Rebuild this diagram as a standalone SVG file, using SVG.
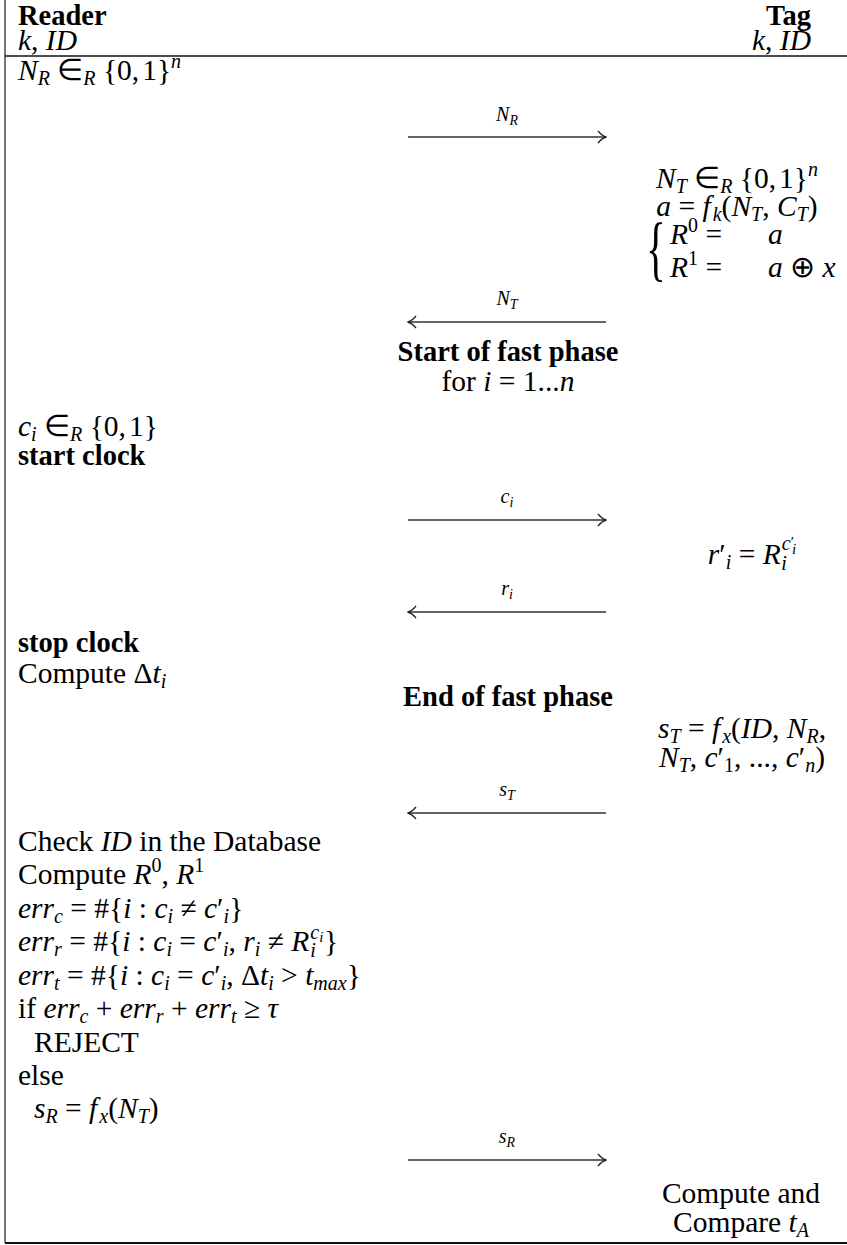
<svg xmlns="http://www.w3.org/2000/svg" width="847" height="1245" viewBox="0 0 847 1245">
<style>
.t{font-family:"Liberation Serif","Times New Roman",serif;font-size:29.5px;fill:#000}
.i{font-style:italic}
.b{font-weight:bold;font-size:28.5px}
.sb{font-size:20px}
.sp{font-size:20px}
.ss{font-size:15px}
.l{font-family:"Liberation Serif","Times New Roman",serif;font-size:20px;fill:#000;font-style:italic}
.l .sb{font-size:14px}
.c{text-anchor:middle}
.e{text-anchor:end}
.rule{stroke:#111;stroke-width:1.5}
.side{stroke:#777;stroke-width:2}
.arr{stroke:#333;stroke-width:1.3;fill:none}
</style>
<defs>
<marker id="tip" viewBox="-10 -7 12 14" refX="0" refY="0" markerWidth="12" markerHeight="14" markerUnits="userSpaceOnUse" orient="auto-start-reverse">
<path d="M-8,-6 C-5,-2.5 -2.5,-0.6 0.5,0 C-2.5,0.6 -5,2.5 -8,6" fill="none" stroke="#222" stroke-width="1.3"/>
</marker>
</defs>
<rect width="847" height="1245" fill="#fff"/>
<g id="frame">
<line class="side" x1="5" y1="0" x2="5" y2="1243"/>
<line class="rule" x1="5" y1="56" x2="847" y2="56"/>
<line class="rule" x1="5" y1="1243" x2="847" y2="1243" style="stroke-width:2"/>
</g>
<g id="reader">
<text class="t b" x="18" y="25">Reader</text>
<text class="t" x="18" y="50"><tspan class="i">k</tspan>, <tspan class="i">ID</tspan></text>
<text class="t" x="18" y="80"><tspan class="i">N</tspan><tspan class="i sb" dy="5">R</tspan><tspan dy="-5"> ∈</tspan><tspan class="i sb" dy="5">R</tspan><tspan dy="-5"> {0,</tspan><tspan dx="3">1}</tspan><tspan class="i sp" dy="-12">n</tspan></text>
<text class="t" x="18" y="436"><tspan class="i">c</tspan><tspan class="i sb" dy="5">i</tspan><tspan dy="-5"> ∈</tspan><tspan class="i sb" dy="5">R</tspan><tspan dy="-5"> {0,</tspan><tspan dx="3">1}</tspan></text>
<text class="t b" x="18" y="465">start clock</text>
<text class="t b" x="18" y="652">stop clock</text>
<text class="t" x="18" y="683">Compute Δ<tspan class="i">t</tspan><tspan class="i sb" dy="5">i</tspan></text>
<text class="t" x="18" y="851">Check <tspan class="i">ID</tspan> in the Database</text>
<text class="t" x="18" y="884">Compute <tspan class="i">R</tspan><tspan class="sp" dy="-12">0</tspan><tspan dy="12">, </tspan><tspan class="i">R</tspan><tspan class="sp" dy="-12">1</tspan></text>
<text class="t" x="18" y="918"><tspan class="i">err</tspan><tspan class="i sb" dy="5">c</tspan><tspan dy="-5"> = #{</tspan><tspan class="i">i</tspan> : <tspan class="i">c</tspan><tspan class="i sb" dy="5">i</tspan><tspan dy="-5"> ≠ </tspan><tspan class="i">c</tspan>′<tspan class="i sb" dy="5">i</tspan><tspan dy="-5">}</tspan></text>
<text class="t" x="18" y="951"><tspan class="i">err</tspan><tspan class="i sb" dy="5">r</tspan><tspan dy="-5"> = #{</tspan><tspan class="i">i</tspan> : <tspan class="i">c</tspan><tspan class="i sb" dy="5">i</tspan><tspan dy="-5"> = </tspan><tspan class="i">c</tspan>′<tspan class="i sb" dy="5">i</tspan><tspan dy="-5">, </tspan><tspan class="i">r</tspan><tspan class="i sb" dy="5">i</tspan><tspan dy="-5"> ≠ </tspan><tspan class="i">R</tspan><tspan class="i sp" dx="1" dy="-12">c</tspan><tspan class="i ss" dy="3">i</tspan><tspan class="i sb" dx="-13" dy="15">i</tspan><tspan dx="8" dy="-6">}</tspan></text>
<text class="t" x="18" y="985"><tspan class="i">err</tspan><tspan class="i sb" dy="5">t</tspan><tspan dy="-5"> = #{</tspan><tspan class="i">i</tspan> : <tspan class="i">c</tspan><tspan class="i sb" dy="5">i</tspan><tspan dy="-5"> = </tspan><tspan class="i">c</tspan>′<tspan class="i sb" dy="5">i</tspan><tspan dy="-5">, Δ</tspan><tspan class="i">t</tspan><tspan class="i sb" dy="5">i</tspan><tspan dy="-5"> &gt; </tspan><tspan class="i">t</tspan><tspan class="i sb" dy="5">max</tspan><tspan dy="-5">}</tspan></text>
<text class="t" x="18" y="1018">if <tspan class="i">err</tspan><tspan class="i sb" dy="5">c</tspan><tspan dy="-5"> + </tspan><tspan class="i">err</tspan><tspan class="i sb" dy="5">r</tspan><tspan dy="-5"> + </tspan><tspan class="i">err</tspan><tspan class="i sb" dy="5">t</tspan><tspan dy="-5"> ≥ </tspan><tspan class="i">τ</tspan></text>
<text class="t" x="34" y="1052">REJECT</text>
<text class="t" x="18" y="1085">else</text>
<text class="t" x="34" y="1118"><tspan class="i">s</tspan><tspan class="i sb" dy="5">R</tspan><tspan dy="-5"> = </tspan><tspan class="i">f</tspan><tspan class="i sb" dx="2" dy="5">x</tspan><tspan dy="-5">(</tspan><tspan class="i">N</tspan><tspan class="i sb" dy="5">T</tspan><tspan dy="-5">)</tspan></text>
</g>
<g id="tag">
<text class="t b e" x="811" y="25">Tag</text>
<text class="t e" x="811" y="50"><tspan class="i">k</tspan>, <tspan class="i">ID</tspan></text>
<text class="t c" x="737" y="188"><tspan class="i">N</tspan><tspan class="i sb" dy="5">T</tspan><tspan dy="-5"> ∈</tspan><tspan class="i sb" dy="5">R</tspan><tspan dy="-5"> {0,</tspan><tspan dx="3">1}</tspan><tspan class="i sp" dy="-12">n</tspan></text>
<text class="t c" x="737" y="216"><tspan class="i">a</tspan> = <tspan class="i">f</tspan><tspan class="i sb" dx="2" dy="5">k</tspan><tspan dy="-5">(</tspan><tspan class="i">N</tspan><tspan class="i sb" dy="5">T</tspan><tspan dy="-5">, </tspan><tspan class="i">C</tspan><tspan class="i sb" dy="5">T</tspan><tspan dy="-5">)</tspan></text>
<text class="t" transform="translate(646,272) scale(1.4,2.45)">{</text>
<text class="t" x="670" y="244"><tspan class="i">R</tspan><tspan class="sp" dy="-12">0</tspan><tspan dy="12"> =</tspan></text>
<text class="t i" x="768" y="244">a</text>
<text class="t" x="670" y="277"><tspan class="i">R</tspan><tspan class="sp" dy="-12">1</tspan><tspan dy="12"> =</tspan></text>
<text class="t" x="768" y="277"><tspan class="i">a</tspan> ⊕ <tspan class="i">x</tspan></text>
<text class="t c" x="752" y="564"><tspan class="i">r</tspan>′<tspan class="i sb" dy="5">i</tspan><tspan dy="-5"> = </tspan><tspan class="i">R</tspan><tspan class="i sp" dx="1" dy="-14">c</tspan><tspan class="ss" dy="-3">′</tspan><tspan class="i ss" dx="-2" dy="7">i</tspan><tspan class="i sb" dx="-15" dy="16">i</tspan><tspan dx="9" dy="-6"> </tspan></text>
<text class="t c" x="742" y="738"><tspan class="i">s</tspan><tspan class="i sb" dy="5">T</tspan><tspan dy="-5"> = </tspan><tspan class="i">f</tspan><tspan class="i sb" dx="2" dy="5">x</tspan><tspan dy="-5">(</tspan><tspan class="i">ID</tspan>, <tspan class="i">N</tspan><tspan class="i sb" dy="5">R</tspan><tspan dy="-5">,</tspan></text>
<text class="t c" x="742" y="767"><tspan class="i">N</tspan><tspan class="i sb" dy="5">T</tspan><tspan dy="-5">, </tspan><tspan class="i">c</tspan>′<tspan class="sb" dy="5">1</tspan><tspan dy="-5">, ..., </tspan><tspan class="i">c</tspan>′<tspan class="i sb" dy="5">n</tspan><tspan dy="-5">)</tspan></text>
<text class="t c" x="741" y="1203">Compute and</text>
<text class="t c" x="741" y="1232">Compare <tspan class="i">t</tspan><tspan class="i sb" dy="5">A</tspan></text>
</g>
<g id="phase">
<text class="t b c" x="508" y="361">Start of fast phase</text>
<text class="t c" x="508" y="391">for <tspan class="i">i</tspan> = 1...<tspan class="i">n</tspan></text>
<text class="t b c" x="508" y="706">End of fast phase</text>
</g>
<g id="connectors">
<line class="arr" x1="408" y1="137" x2="606" y2="137" marker-end="url(#tip)"/>
<text class="l c" x="507" y="121">N<tspan class="sb" dy="4">R</tspan></text>
<line class="arr" x1="408" y1="322" x2="606" y2="322" marker-start="url(#tip)"/>
<text class="l c" x="507" y="305">N<tspan class="sb" dy="4">T</tspan></text>
<line class="arr" x1="408" y1="520" x2="606" y2="520" marker-end="url(#tip)"/>
<text class="l c" x="507" y="503">c<tspan class="sb" dy="4">i</tspan></text>
<line class="arr" x1="408" y1="612" x2="606" y2="612" marker-start="url(#tip)"/>
<text class="l c" x="507" y="595">r<tspan class="sb" dy="4">i</tspan></text>
<line class="arr" x1="408" y1="813" x2="606" y2="813" marker-start="url(#tip)"/>
<text class="l c" x="507" y="796">s<tspan class="sb" dy="4">T</tspan></text>
<line class="arr" x1="408" y1="1160" x2="606" y2="1160" marker-end="url(#tip)"/>
<text class="l c" x="507" y="1143">s<tspan class="sb" dy="4">R</tspan></text>
</g>
</svg>
